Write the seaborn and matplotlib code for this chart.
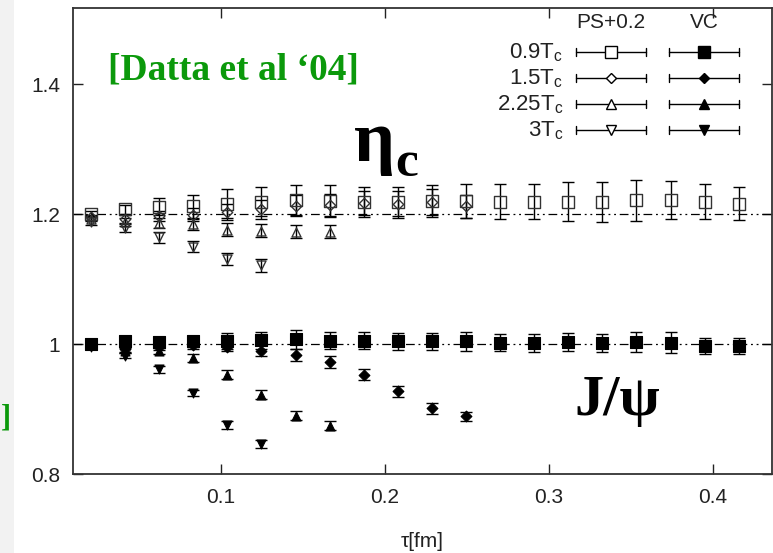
import matplotlib
matplotlib.use("Agg")
import matplotlib.pyplot as plt
import seaborn as sns
import numpy as np
from matplotlib.patches import Rectangle

# ---------------- data ----------------
tau = [0.0208, 0.0416, 0.0624, 0.0832, 0.1040, 0.1248, 0.1456, 0.1664, 0.1872, 0.2080,
       0.2288, 0.2496, 0.2704, 0.2912, 0.3120, 0.3328, 0.3536, 0.3744, 0.3952, 0.4160]

ps_09 = [1.200, 1.207, 1.211, 1.212, 1.216, 1.219, 1.221, 1.220, 1.219, 1.218,
         1.220, 1.220, 1.219, 1.219, 1.219, 1.219, 1.221, 1.222, 1.219, 1.216]
ps_09_err = [0.004, 0.007, 0.013, 0.018, 0.022, 0.022, 0.023, 0.025, 0.023, 0.024,
             0.025, 0.026, 0.027, 0.027, 0.030, 0.031, 0.031, 0.029, 0.027, 0.025]
vc_09 = [1.000, 1.004, 1.003, 1.004, 1.005, 1.006, 1.007, 1.005, 1.005, 1.004,
         1.004, 1.004, 1.002, 1.002, 1.003, 1.002, 1.003, 1.002, 0.997, 0.997]
vc_09_err = [0.004, 0.006, 0.007, 0.008, 0.012, 0.013, 0.014, 0.013, 0.013, 0.013,
             0.013, 0.014, 0.013, 0.014, 0.014, 0.014, 0.016, 0.016, 0.013, 0.013]

ps_15 = [1.195, 1.192, 1.197, 1.199, 1.203, 1.207, 1.213, 1.214, 1.217, 1.216, 1.218, 1.212]
ps_15_err = [0.004, 0.006, 0.008, 0.010, 0.012, 0.014, 0.016, 0.017, 0.018, 0.019, 0.020, 0.018]
vc_15 = [0.998, 0.992, 0.996, 0.998, 0.996, 0.990, 0.983, 0.972, 0.953, 0.927, 0.901, 0.889]
vc_15_err = [0.003, 0.004, 0.005, 0.006, 0.007, 0.008, 0.009, 0.009, 0.009, 0.009, 0.009, 0.007]

ps_225 = [1.193, 1.188, 1.186, 1.184, 1.176, 1.174, 1.173, 1.173]
ps_225_err = [0.004, 0.006, 0.008, 0.009, 0.010, 0.010, 0.010, 0.010]
vc_225 = [0.998, 0.990, 0.989, 0.979, 0.953, 0.922, 0.890, 0.874]
vc_225_err = [0.003, 0.004, 0.005, 0.006, 0.007, 0.007, 0.007, 0.007]

ps_3 = [1.187, 1.179, 1.164, 1.150, 1.131, 1.121]
ps_3_err = [0.004, 0.006, 0.008, 0.008, 0.009, 0.010]
vc_3 = [0.995, 0.982, 0.961, 0.925, 0.875, 0.846]
vc_3_err = [0.003, 0.004, 0.005, 0.005, 0.006, 0.006]

legend_labels = ["0.9T$_c$", "1.5T$_c$", "2.25T$_c$", "3T$_c$"]
column_titles = ["PS+0.2", "VC"]
ref_levels = [1.2, 1.0]
x_ticks = [0.1, 0.2, 0.3, 0.4]
x_tick_labels = ["0.1", "0.2", "0.3", "0.4"]
y_ticks = [0.8, 1.0, 1.2, 1.4]
y_tick_labels = ["0.8", "1", "1.2", "1.4"]

# ---------------- style ----------------
sns.set_theme(style="ticks")
plt.rcParams["font.family"] = ["Liberation Sans", "DejaVu Sans"]
plt.rcParams["mathtext.fontset"] = "custom"
plt.rcParams["mathtext.rm"] = "Liberation Sans"
plt.rcParams["mathtext.it"] = "Liberation Sans"
plt.rcParams["mathtext.default"] = "rm"

W, H = 773, 553
fig = plt.figure(figsize=(W / 100, H / 100), dpi=100)
fig.patch.set_facecolor("white")

AX_L, AX_R, AX_T, AX_B = 73, 772, 7.5, 474
ax = fig.add_axes([AX_L / W, (H - AX_B) / H, (AX_R - AX_L) / W, (AX_B - AX_T) / H])
ax.set_facecolor("white")

XMIN, XMAX = 0.0098, 0.0098 + (AX_R - AX_L) / 1639.0
YMIN, YMAX = 0.8, 0.8 + (AX_B - AX_T) / 650.0
ax.set_xlim(XMIN, XMAX)
ax.set_ylim(YMIN, YMAX)

# reference lines
for lv in ref_levels:
    ax.axhline(lv, color="black", lw=0.9, ls=(0, (7, 3, 1.5, 3, 1.5, 3)), zorder=1)

series = [
    (ps_09, ps_09_err, "s", 80, False),
    (vc_09, vc_09_err, "s", 80, True),
    (ps_15, ps_15_err, "D", 28, False),
    (vc_15, vc_15_err, "D", 30, True),
    (ps_225, ps_225_err, "^", 42, False),
    (vc_225, vc_225_err, "^", 42, True),
    (ps_3, ps_3_err, "v", 42, False),
    (vc_3, vc_3_err, "v", 42, True),
]

for vals, errs, mk, sz, filled in series:
    xs = tau[:len(vals)]
    ax.errorbar(xs, vals, yerr=errs, fmt="none", ecolor="black",
                elinewidth=1.0, capsize=4, capthick=1.0, zorder=2)
    if filled:
        sns.scatterplot(x=xs, y=vals, marker=mk, s=sz, color="black",
                        edgecolor="black", linewidth=0.8, ax=ax, zorder=3, legend=False)
    else:
        sns.scatterplot(x=xs, y=vals, marker=mk, s=sz, color=(1, 1, 1, 0),
                        edgecolor="#333333", linewidth=1.0, ax=ax, zorder=3, legend=False)

# axes styling
ax.set_xticks(x_ticks)
ax.set_xticklabels(x_tick_labels)
ax.set_yticks(y_ticks)
ax.set_yticklabels(y_tick_labels)
ax.tick_params(direction="in", top=True, right=True, length=7, width=1.0,
               labelsize=15, colors="#222222", pad=9)
ax.tick_params(axis="x", pad=10)
for sp in ax.spines.values():
    sp.set_visible(True)
    sp.set_color("#333333")
    sp.set_linewidth(1.3)
ax.set_xlabel("τ[fm]", fontsize=15, color="#222222", labelpad=18)
ax.set_ylabel("")
ax.grid(False)

# ---------------- helpers (pixel -> axes fraction) ----------------
def axx(px):
    return (px - AX_L) / (AX_R - AX_L)

def axy(py):
    return (AX_B - py) / (AX_B - AX_T)

# ---------------- legend (manual, gnuplot-like) ----------------
ax.text(axx(611), axy(22), column_titles[0], transform=ax.transAxes, ha="center",
        va="center", fontsize=15, color="#222222")
ax.text(axx(704), axy(22), column_titles[1], transform=ax.transAxes, ha="center",
        va="center", fontsize=15, color="#222222")
row_y = [52, 78, 104, 130]
leg_markers = [("s", 9), ("D", 5), ("^", 6.5), ("v", 6.5)]
for lab, yy, (mk, ms) in zip(legend_labels, row_y, leg_markers):
    ax.text(axx(563), axy(yy + 6), lab, transform=ax.transAxes, ha="right",
            va="baseline", fontsize=16, color="#222222")
    for (x0, x1, xm, filled) in [(576, 646, 611, False), (669, 739, 704, True)]:
        ax.plot([axx(x0), axx(x1)], [axy(yy), axy(yy)], transform=ax.transAxes,
                color="black", lw=1.0, clip_on=False, zorder=4)
        for xc in (x0, x1):
            ax.plot([axx(xc), axx(xc)], [axy(yy - 4), axy(yy + 4)], transform=ax.transAxes,
                    color="black", lw=1.0, clip_on=False, zorder=4)
        ax.plot([axx(xm)], [axy(yy)], transform=ax.transAxes, marker=mk, ms=ms,
                mfc="black" if filled else "white", mec="black", mew=1.0,
                ls="none", clip_on=False, zorder=5)

# ---------------- annotations ----------------
green = "#0b990b"
serif = ["Liberation Serif", "DejaVu Serif"]
fig.text(108 / W, 1 - 80 / H, "[Datta et al \u201804]", fontsize=27, fontweight="bold",
         family=serif, color=green, ha="left", va="baseline")
fig.text(354 / W, 1 - 161 / H, "η", fontsize=52, fontweight="bold", family=serif,
         color="black", ha="left", va="baseline")
fig.text(395 / W, 1 - 176 / H, "c", fontsize=37, fontweight="bold", family=serif,
         color="black", ha="left", va="baseline")
fig.text(574 / W, 1 - 415 / H, "J/ψ", fontsize=42, fontweight="bold", family=serif,
         color="black", ha="left", va="baseline")

# left strip with bracket (slide content at the edge)
fig.patches.append(Rectangle((0, 0), 14 / W, 1, transform=fig.transFigure,
                             facecolor="#f2f2f2", edgecolor="none", zorder=0))
fig.text(0.5 / W, 1 - 426 / H, "]", fontsize=22, fontweight="bold", family=serif,
         color=green, ha="left", va="baseline")

fig.savefig("out.png", dpi=100)
